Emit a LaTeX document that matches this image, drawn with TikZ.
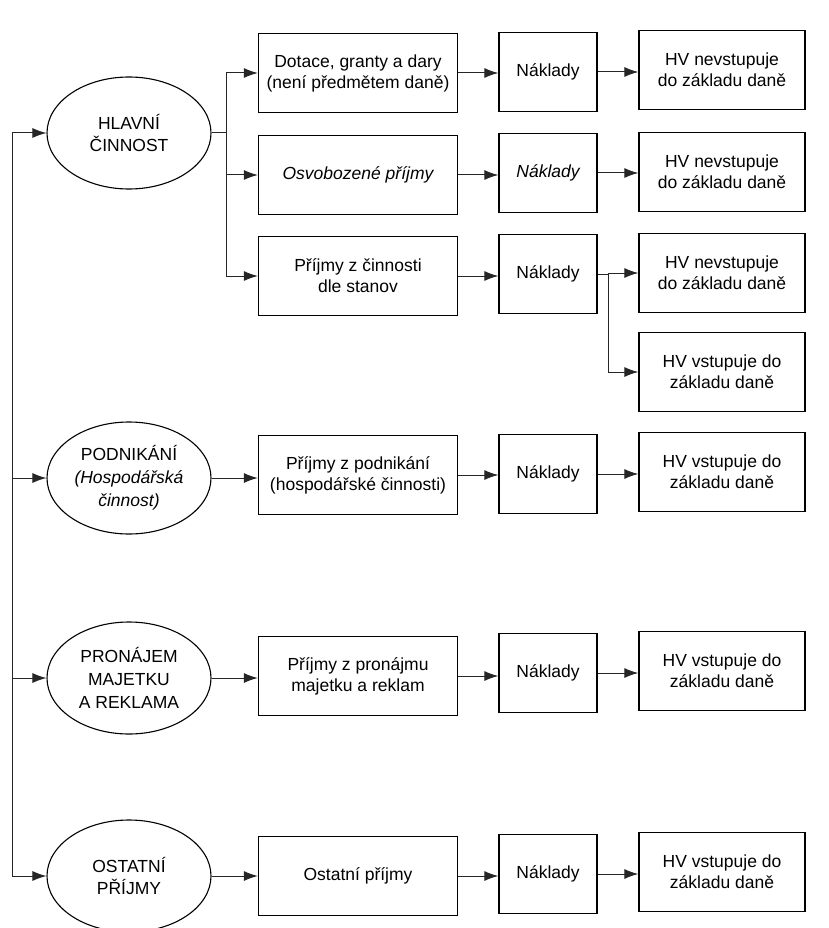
\documentclass[tikz,border=0pt]{standalone}
\usepackage{fontspec}
\setmainfont{Liberation Sans}
\usetikzlibrary{arrows.meta,shapes.geometric}

\begin{document}
\begin{tikzpicture}[
  x=1pt, y=1pt,
  font=\fontsize{17.5}{21}\selectfont,
  >={Latex[length=14pt,width=10pt]},
  box/.style={draw, line width=1.3pt, align=center, minimum height=79pt, inner sep=2pt},
  srcbox/.style={box, minimum width=199pt},
  costbox/.style={box, minimum width=98pt},
  hvbox/.style={box, minimum width=166pt},
  activity/.style={draw, ellipse, line width=1.1pt, align=center, minimum width=164pt, minimum height=112pt, inner sep=0pt},
  flow/.style={->, line width=1pt, draw=black!85},
]
\useasboundingbox (0,0) rectangle (828,-928);

% ---- activities
\node[activity] (hl)  at (129,-133) {HLAVNÍ\\[1pt]ČINNOST};
\node[activity] (pod) at (129,-478) {PODNIKÁNÍ\\[2pt]\itshape(Hospodářská\\[2pt]\itshape činnost)};
\node[activity] (pro) at (129,-678) {PRONÁJEM\\[2pt]MAJETKU\\[2pt]A REKLAMA};
\node[activity] (ost) at (129,-876) {OSTATNÍ\\[1pt]PŘÍJMY};

% ---- incomes
\node[srcbox] (dot)  at (358,-73)  {Dotace, granty a dary\\(není předmětem daně)};
\node[srcbox] (osv)  at (358,-175) {\itshape Osvobozené příjmy};
\node[srcbox] (stan) at (358,-276) {Příjmy z činnosti\\dle stanov};
\node[srcbox] (hosp) at (358,-475) {Příjmy z podnikání\\(hospodářské činnosti)};
\node[srcbox] (naj)  at (358,-676) {Příjmy z pronájmu\\majetku a reklam};
\node[srcbox] (ostp) at (358,-876) {Ostatní příjmy};

% ---- costs
\node[costbox] (nk1) at (548,-72)  {Náklady};
\node[costbox] (nk2) at (548,-173) {\itshape Náklady};
\node[costbox] (nk3) at (548,-274) {Náklady};
\node[costbox] (nk4) at (548,-474) {Náklady};
\node[costbox] (nk5) at (548,-673) {Náklady};
\node[costbox] (nk6) at (548,-874) {Náklady};

% ---- result
\node[hvbox] (hv1)  at (722,-70)  {HV nevstupuje\\do základu daně};
\node[hvbox] (hv2)  at (722,-172) {HV nevstupuje\\do základu daně};
\node[hvbox] (hv3)  at (722,-273) {HV nevstupuje\\do základu daně};
\node[hvbox] (hv3b) at (722,-372) {HV vstupuje do\\základu daně};
\node[hvbox] (hv4)  at (722,-472) {HV vstupuje do\\základu daně};
\node[hvbox] (hv5)  at (722,-671) {HV vstupuje do\\základu daně};
\node[hvbox] (hv6)  at (722,-872) {HV vstupuje do\\základu daně};

% ---- left trunk to the activities
\coordinate (trunk) at (12,-133);
\draw[flow] (trunk) -- (hl.west);
\draw[flow] (trunk) |- (pod.west);
\draw[flow] (trunk) |- (pro.west);
\draw[flow] (trunk) |- (ost.west);

% ---- main activity splits in three
\coordinate (hlfork) at (226,-133);
\draw[flow] (hl.east) -- (hlfork) |- (dot.west);
\draw[flow] (hlfork) |- (osv.west);
\draw[flow] (hlfork) |- (stan.west);

% ---- incomes to costs
\draw[flow] (dot.east)  -- (dot.east -| nk1.west);
\draw[flow] (osv.east)  -- (osv.east -| nk2.west);
\draw[flow] (stan.east) -- (stan.east -| nk3.west);
\draw[flow] (pod.east)  -- (pod.east -| hosp.west);
\draw[flow] (hosp.east) -- (hosp.east -| nk4.west);
\draw[flow] (pro.east)  -- (pro.east -| naj.west);
\draw[flow] (naj.east)  -- (naj.east -| nk5.west);
\draw[flow] (ost.east)  -- (ost.east -| ostp.west);
\draw[flow] (ostp.east) -- (ostp.east -| nk6.west);

% ---- costs to result
\draw[flow] (nk1.east) -- (nk1.east -| hv1.west);
\draw[flow] (nk2.east) -- (nk2.east -| hv2.west);
\coordinate (nkfork) at (608,-274);
\draw[flow] (nk3.east) -- (nkfork) |- (hv3.west);
\draw[flow] (nkfork) |- (hv3b.west);
\draw[flow] (nk4.east) -- (nk4.east -| hv4.west);
\draw[flow] (nk5.east) -- (nk5.east -| hv5.west);
\draw[flow] (nk6.east) -- (nk6.east -| hv6.west);
\end{tikzpicture}
\end{document}
